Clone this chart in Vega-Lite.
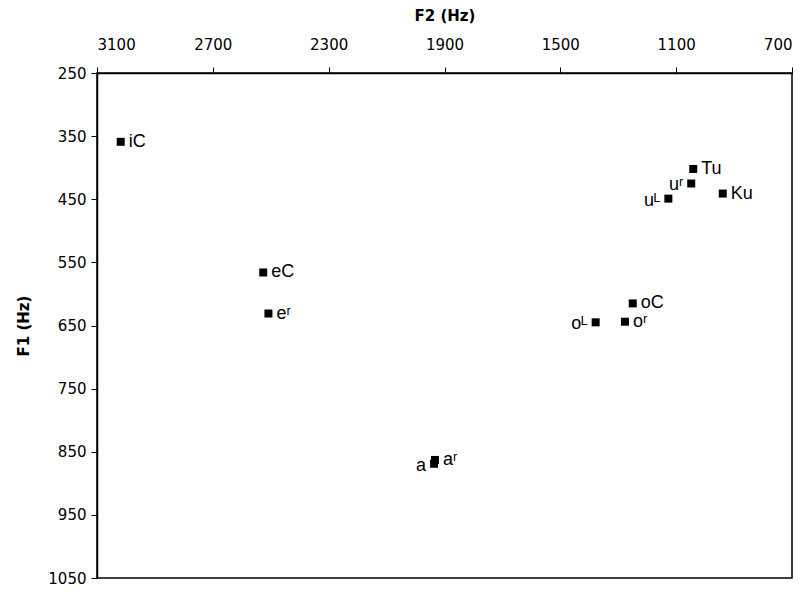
{
  "$schema": "https://vega.github.io/schema/vega-lite/v6.json",
  "width": 695,
  "height": 505,
  "autosize": {"type": "none"},
  "padding": {"left": 97, "top": 73, "right": 18, "bottom": 14},
  "background": "white",
  "config": {
    "view": {"stroke": "black", "strokeWidth": 1.5},
    "axis": {
      "grid": false,
      "domainColor": "black",
      "domainWidth": 1.5,
      "tickColor": "black",
      "tickSize": 6,
      "labelFont": "DejaVu Sans",
      "labelFontSize": 15,
      "labelColor": "black",
      "titleFont": "DejaVu Sans",
      "titleFontSize": 15,
      "titleFontWeight": "bold",
      "titleColor": "black"
    }
  },
  "data": {
    "values": [
      {"label": "iC", "F2": 3018, "F1": 359},
      {"label": "eC", "F2": 2526, "F1": 566},
      {"label": "eʳ", "F2": 2508, "F1": 631},
      {"label": "a", "F2": 1936, "F1": 869},
      {"label": "aʳ", "F2": 1933, "F1": 863},
      {"label": "oᴸ", "F2": 1378, "F1": 645},
      {"label": "oʳ", "F2": 1277, "F1": 644},
      {"label": "oC", "F2": 1250, "F1": 615},
      {"label": "uᴸ", "F2": 1127, "F1": 449},
      {"label": "uʳ", "F2": 1048, "F1": 425},
      {"label": "Tu", "F2": 1041, "F1": 402},
      {"label": "Ku", "F2": 939, "F1": 441}
    ]
  },
  "encoding": {
    "x": {
      "field": "F2",
      "type": "quantitative",
      "scale": {"domain": [700, 3100], "reverse": true, "nice": false, "zero": false},
      "axis": {
        "orient": "top",
        "title": "F2 (Hz)",
        "values": [3100, 2700, 2300, 1900, 1500, 1100, 700],
        "labelPadding": 15,
        "titlePadding": 14,
        "format": "d"
      }
    },
    "y": {
      "field": "F1",
      "type": "quantitative",
      "scale": {"domain": [250, 1050], "reverse": true, "nice": false, "zero": false},
      "axis": {
        "title": "F1 (Hz)",
        "values": [250, 350, 450, 550, 650, 750, 850, 950, 1050],
        "labelPadding": 5,
        "titlePadding": 16,
        "format": "d"
      }
    }
  },
  "layer": [
    {
      "mark": {"type": "square", "size": 64, "color": "black", "filled": true, "opacity": 1}
    },
    {
      "transform": [{"filter": {"not": {"field": "label", "oneOf": ["a", "oᴸ", "uᴸ", "uʳ"]}}}],
      "mark": {"type": "text", "align": "left", "baseline": "middle", "dx": 8, "font": "Liberation Sans", "fontSize": 18, "color": "black"},
      "encoding": {"text": {"field": "label"}}
    },
    {
      "transform": [{"filter": {"field": "label", "oneOf": ["a", "oᴸ", "uᴸ", "uʳ"]}}],
      "mark": {"type": "text", "align": "right", "baseline": "middle", "dx": -8, "dy": 2, "font": "Liberation Sans", "fontSize": 18, "color": "black"},
      "encoding": {"text": {"field": "label"}}
    }
  ]
}
